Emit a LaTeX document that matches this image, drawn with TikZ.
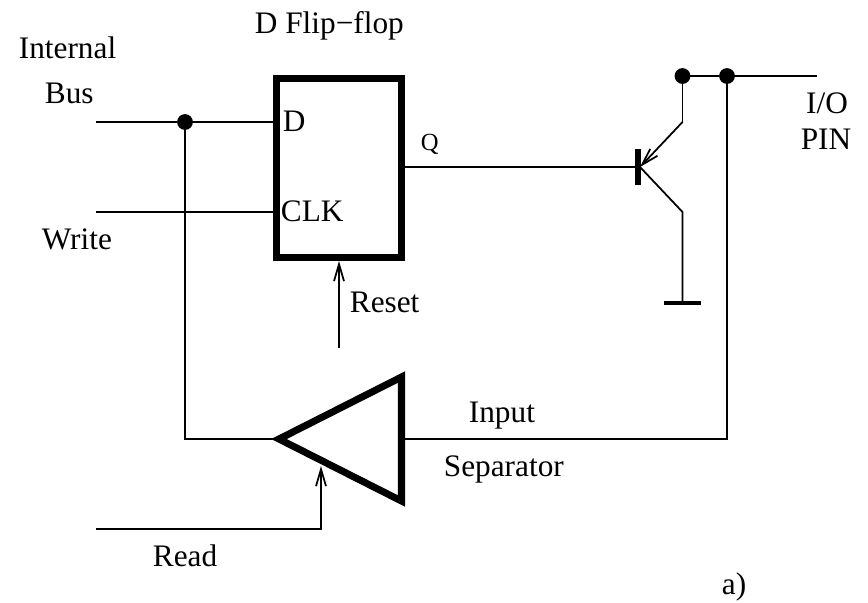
\documentclass[tikz,border=0pt]{standalone}
\usepackage{fontspec}
\setmainfont{Liberation Serif}
\usepackage{tikz}
\usetikzlibrary{arrows.meta}

\begin{document}
\begin{tikzpicture}[x=0.01cm,y=-0.01cm,line width=0.5pt,
  every node/.style={inner sep=0pt,font=\fontsize{8.9pt}{11pt}\selectfont},
  dot/.style={circle,fill=black,draw=black,minimum size=0.14cm},
  thick box/.style={line width=2pt,line join=miter},
  tip/.style={-{Straight Barb[length=1.7mm,width=1mm]}}]
     \useasboundingbox (0,0) rectangle (868,602);

     % flip-flop and buffer
     \node[thick box,draw,minimum width=1.25cm,minimum height=1.79cm] (FF) at (339,168) {};
     \coordinate (T1) at (279,439);
     \coordinate (T2) at (401.5,377);
     \coordinate (T3) at (401.5,501);
     \draw[thick box] (T1) -- (T2) -- (T3) -- cycle;

     % nodes on the lines
     \node[dot] (J1) at (185,122) {};
     \node[dot] (J2) at (682.5,76) {};
     \node[dot] (J3) at (727,76) {};
     \coordinate (BusIn) at (96,122);
     \coordinate (D) at (276,122);
     \coordinate (WrIn) at (96,212);
     \coordinate (Clk) at (276,212);
     \coordinate (Q) at (402,167);
     \coordinate (Base) at (637,167);
     \coordinate (PinEnd) at (817,76);
     \coordinate (Col) at (682.5,122);
     \coordinate (Emi) at (682.5,212);
     \coordinate (Gnd) at (682.5,303);
     \coordinate (BufOut) at (402,439);
     \coordinate (Corner1) at (727,439);
     \coordinate (Corner2) at (185,439);
     \coordinate (BufIn) at (273,439);
     \coordinate (RdIn) at (96,529);
     \coordinate (RdUp) at (321,529);
     \coordinate (RdTip) at (321,466);
     \coordinate (RstIn) at (339,348);
     \coordinate (RstTip) at (339,261);

     % wires
     \draw (BusIn) -- (J1) -- (D);
     \draw (WrIn) -- (Clk);
     \draw (Q) -- (Base);
     \draw (J2) -- (J3) -- (PinEnd);
     \draw (J1) -- (Corner2) -- (BufIn);
     \draw (J3) -- (Corner1) -- (BufOut);
     \draw[tip] (RdIn) -- (RdUp) -- (RdTip);
     \draw[tip] (RstIn) -- (RstTip);

     % transistor
     \coordinate (Bar1) at (637.5,149);
     \coordinate (Bar2) at (637.5,185);
     \coordinate (BaseC) at (640,167);
     \draw[line width=1.7pt] (Bar1) -- (Bar2);
     \draw (J2) -- (Col);
     \draw[tip] (Col) -- (BaseC);
     \draw (BaseC) -- (Emi) -- (Gnd);
     \coordinate (GndL) at (664,303);
     \coordinate (GndR) at (701,303);
     \draw[line width=0.9pt] (GndL) -- (GndR);

     % labels
     \node[anchor=base west] (LInt) at (18,58) {Internal};
     \node[anchor=base west] (LBus) at (44,103) {Bus};
     \node[anchor=base west] (LWr) at (41,249) {Write};
     \node[anchor=base west] (LFF) at (254,33) {D Flip−flop};
     \node[anchor=base west] (LD) at (282,131) {D};
     \node[anchor=base west] (LClk) at (280,221) {CLK};
     \node[anchor=base west,font=\fontsize{7pt}{9pt}\selectfont] (LQ) at (420,150) {Q};
     \node[anchor=base west] (LRst) at (349,312) {Reset};
     \node[anchor=base] (LIO) at (827,113) {I/O};
     \node[anchor=base] (LPin) at (826,149) {PIN};
     \node[anchor=base west] (LIn) at (468,422) {Input};
     \node[anchor=base west] (LSep) at (443,476) {Separator};
     \node[anchor=base west] (LRd) at (152,566) {Read};
     \node[anchor=base west] (La) at (721,594) {a)};
\end{tikzpicture}
\end{document}
